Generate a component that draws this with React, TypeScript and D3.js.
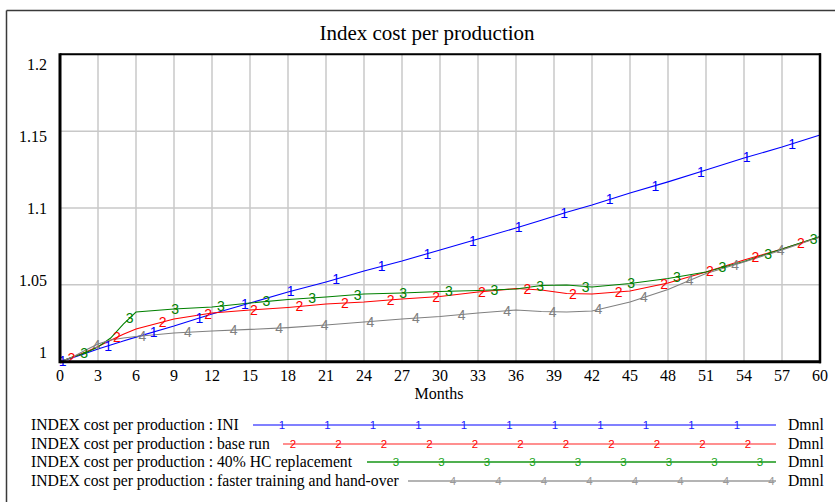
import React from "react";
import * as d3 from "d3";

const W = 835;
const H = 502;

const months = [0, 1, 2, 3, 4, 5, 6, 9, 12, 15, 18, 21, 24, 27, 30, 33, 36, 38, 40, 42, 45, 48, 51, 54, 57, 60];

const seriesINI = [1.0, 1.0026, 1.0054, 1.0083, 1.0109, 1.0135, 1.016, 1.0232, 1.031, 1.0382, 1.0453, 1.0519, 1.059, 1.0655, 1.0727, 1.0798, 1.087, 1.092, 1.0972, 1.102, 1.1098, 1.117, 1.1247, 1.1325, 1.1397, 1.1475];
const seriesBase = [1.0, 1.003, 1.0062, 1.0099, 1.0139, 1.0178, 1.0213, 1.0278, 1.0317, 1.0336, 1.0353, 1.0375, 1.0388, 1.0408, 1.0424, 1.0453, 1.0476, 1.0466, 1.0444, 1.044, 1.046, 1.0512, 1.0584, 1.0662, 1.0733, 1.0811];
const seriesHC = [1.0, 1.003, 1.0056, 1.0096, 1.0154, 1.0245, 1.0323, 1.0343, 1.0356, 1.0382, 1.0405, 1.0421, 1.044, 1.0447, 1.0457, 1.0463, 1.0473, 1.0496, 1.0499, 1.0486, 1.0509, 1.0541, 1.0584, 1.0652, 1.0733, 1.0815];
const seriesFast = [1.0, 1.003, 1.0075, 1.0115, 1.0141, 1.0154, 1.0164, 1.0187, 1.02, 1.021, 1.0222, 1.0239, 1.0258, 1.0278, 1.0294, 1.0317, 1.0336, 1.0327, 1.0323, 1.033, 1.0388, 1.047, 1.0574, 1.0649, 1.0727, 1.0811];

const seriesLabels = [
  "INDEX cost per production : INI",
  "INDEX cost per production : base run",
  "INDEX cost per production : 40% HC replacement",
  "INDEX cost per production : faster training and hand-over",
];
const seriesMarks = ["1", "2", "3", "4"];
const seriesUnits = ["Dmnl", "Dmnl", "Dmnl", "Dmnl"];

const xTicks = d3.range(0, 61, 3);
const yTicks = [1, 1.05, 1.1, 1.15, 1.2];

const title = "Index cost per production";
const xTitle = "Months";

// styles / layout
const colors = ["#0000ff", "#ff0000", "#008000", "#808080"];
const legendLineColors = ["#8080ff", "#ff2020", "#50b050", "#b4b4b4"];
const legendLineWidths = [2, 1.2, 2, 2];
const legendMarkColors = ["#2020ff", "#ff0000", "#10a010", "#999999"];
const markerStart = [0.2, 0.9, 1.9, 2.9];
const markerStep = 3.6;
const legendRowY = [425, 444, 462, 481];
const legendLineStart = [253, 283, 367, 408];
const legendMarkStart = [282, 293, 396, 453];
const legendMarkStep = 45.5;
const legendLineEnd = 776;

const serif = "'Liberation Serif', 'Times New Roman', serif";
const sans = "'Liberation Sans', Arial, sans-serif";

const plot = { left: 60, right: 820, top: 54.3, bottom: 361.7 };

export default function App() {
  const allSeries = [seriesINI, seriesBase, seriesHC, seriesFast];
  const x = d3.scaleLinear().domain([0, 60]).range([plot.left, plot.right]);
  const y = d3.scaleLinear().domain([1, 1.2]).range([plot.bottom, plot.top]);

  const line = d3
    .line<number>()
    .x((_, i) => x(months[i]))
    .y((d) => y(d));

  const interp = (vals: number[], m: number) => {
    const i = Math.min(d3.bisectRight(months, m), months.length - 1);
    const i0 = Math.max(i - 1, 0);
    const m0 = months[i0], m1 = months[i];
    const t = m1 === m0 ? 0 : (m - m0) / (m1 - m0);
    return vals[i0] + (vals[i] - vals[i0]) * t;
  };

  const yLabelOffset = (v: number) => 11 - (20 * (1.2 - v)) / 0.2;

  return (
    <svg
      width={W}
      height={H}
      style={{ position: "absolute", left: 0, top: 0, background: "#fff" }}
    >
      {/* outer frame */}
      <line x1={6.5} y1={10.5} x2={W} y2={10.5} stroke="#3a3a3a" strokeWidth={1.5} />
      <line x1={6.5} y1={10.5} x2={6.5} y2={H} stroke="#3a3a3a" strokeWidth={1.5} />

      <text x={427} y={40} textAnchor="middle" fontFamily={serif} fontSize={21} fill="#000">
        {title}
      </text>

      {/* grid */}
      {xTicks.map((t) => (
        <line key={"gx" + t} x1={x(t)} x2={x(t)} y1={plot.top} y2={plot.bottom} stroke="#c8c8c8" strokeWidth={1.5} />
      ))}
      {yTicks.map((t) => (
        <line key={"gy" + t} x1={plot.left} x2={plot.right} y1={y(t)} y2={y(t)} stroke="#c8c8c8" strokeWidth={1.5} />
      ))}

      {/* series */}
      {allSeries.map((s, k) => (
        <path key={"s" + k} d={line(s) || ""} fill="none" stroke={colors[k]} strokeWidth={1.1} />
      ))}
      {allSeries.map((s, k) =>
        d3
          .range(markerStart[k], 60.01, markerStep)
          .map((m, j) => (
            <text
              key={"m" + k + "-" + j}
              x={x(m)}
              y={y(interp(s, m)) + 5}
              textAnchor="middle"
              fontFamily={sans}
              fontSize={14}
              fill={colors[k]}
            >
              {seriesMarks[k]}
            </text>
          ))
      )}

      {/* plot border */}
      <line x1={plot.left} x2={plot.right + 1} y1={plot.top} y2={plot.top} stroke="#000" strokeWidth={2} />
      <line x1={plot.left} x2={plot.right + 1} y1={plot.bottom} y2={plot.bottom} stroke="#000" strokeWidth={3} />
      <line x1={plot.left} x2={plot.left} y1={plot.top - 1} y2={plot.bottom + 1.5} stroke="#000" strokeWidth={3} />
      <line x1={plot.right} x2={plot.right} y1={plot.top - 1} y2={plot.bottom + 1.5} stroke="#000" strokeWidth={2.5} />

      {/* axis labels */}
      {yTicks.map((t) => (
        <text
          key={"yl" + t}
          x={47}
          y={y(t) + yLabelOffset(t) + 5}
          textAnchor="end"
          fontFamily={serif}
          fontSize={16}
          fill="#000"
        >
          {d3.format("~g")(t)}
        </text>
      ))}
      {xTicks.map((t) => (
        <text key={"xl" + t} x={x(t)} y={381} textAnchor="middle" fontFamily={serif} fontSize={16} fill="#000">
          {t}
        </text>
      ))}
      <text x={439} y={398.5} textAnchor="middle" fontFamily={serif} fontSize={16} fill="#000">
        {xTitle}
      </text>

      {/* legend */}
      {seriesLabels.map((lab, k) => (
        <g key={"lg" + k}>
          <text x={31} y={legendRowY[k] + 5} fontFamily={serif} fontSize={15.7} fill="#000">
            {lab}
          </text>
          <line
            x1={legendLineStart[k]}
            x2={legendLineEnd}
            y1={legendRowY[k]}
            y2={legendRowY[k]}
            stroke={legendLineColors[k]}
            strokeWidth={legendLineWidths[k]}
          />
          {d3.range(legendMarkStart[k], legendLineEnd - 1, legendMarkStep).map((mx, j) => (
            <text
              key={"lm" + k + "-" + j}
              x={mx}
              y={legendRowY[k] + 4}
              textAnchor="middle"
              fontFamily={sans}
              fontSize={11.5}
              fill={legendMarkColors[k]}
            >
              {seriesMarks[k]}
            </text>
          ))}
          <text x={788} y={legendRowY[k] + 5} fontFamily={serif} fontSize={15.7} fill="#000">
            {seriesUnits[k]}
          </text>
        </g>
      ))}
    </svg>
  );
}
